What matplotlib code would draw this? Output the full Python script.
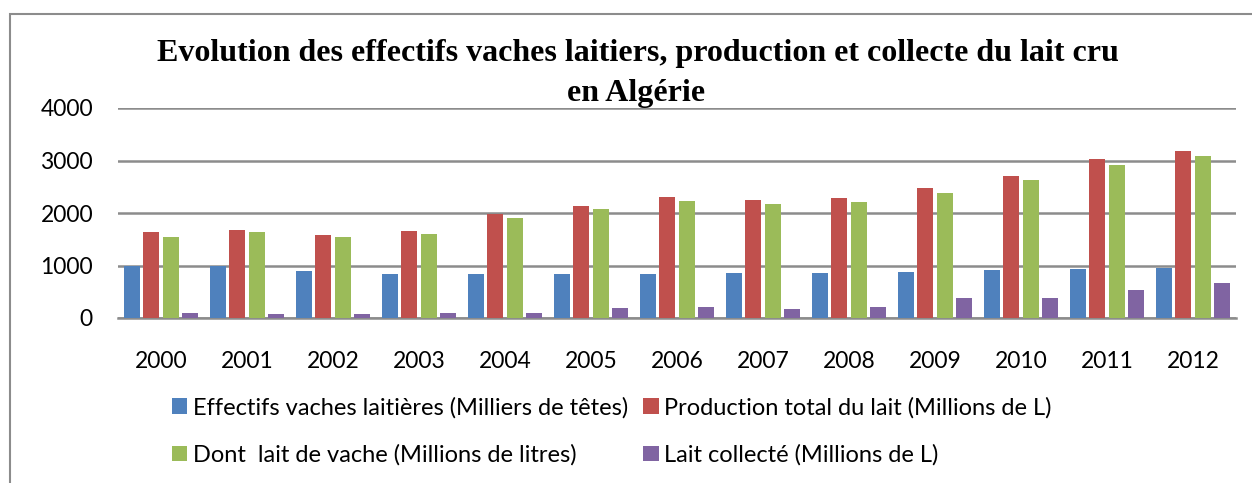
import numpy as np
import matplotlib.pyplot as plt
from matplotlib.patches import Rectangle

years = ['2000', '2001', '2002', '2003', '2004', '2005', '2006',
         '2007', '2008', '2009', '2010', '2011', '2012']
effectifs = [1000, 1000, 886, 829, 841, 829, 841, 848, 848, 873, 905, 930, 956]
production = [1632, 1683, 1587, 1657, 1976, 2141, 2307, 2243, 2282, 2467, 2709, 3021, 3187]
lait_vache = [1549, 1632, 1536, 1606, 1912, 2084, 2231, 2180, 2205, 2390, 2626, 2919, 3078]
collecte = [102, 76, 76, 102, 96, 191, 210, 172, 210, 382, 382, 535, 675]

labels = ['Effectifs vaches laitières (Milliers de têtes)',
          'Production total du lait (Millions de L)',
          'Dont  lait de vache (Millions de litres)',
          'Lait collecté (Millions de L)']
colors = ['#4F81BD', '#C0504D', '#9BBB59', '#8064A2']

W, H = 1252, 483
fig = plt.figure(figsize=(W / 100, H / 100), dpi=100)
fig.patch.set_facecolor('white')

# outer chart frame (only left and top edges visible)
fig.patches.append(Rectangle((10 / W, -0.1), 1.2, 1 - 14 / H + 0.1, transform=fig.transFigure,
                             fill=False, edgecolor='#8c8c8c', linewidth=1.5))

ax = fig.add_axes([118 / W, 1 - 318 / H, (1236 - 118) / W, (318 - 108) / H])

x = np.arange(len(years))
step = 0.227
bw = 0.19
series = [effectifs, production, lait_vache, collecte]
bars = []
for i, vals in enumerate(series):
    b = ax.bar(x + (i - 1.5) * step, vals, width=bw, color=colors[i], label=labels[i], zorder=3)
    bars.append(b)

ax.set_xlim(-0.5, len(years) - 0.5)
ax.set_ylim(0, 4000)
ax.set_yticks([0, 1000, 2000, 3000, 4000])
ax.yaxis.grid(True, color='#8c8c8c', linewidth=1.8, zorder=0)
ax.set_axisbelow(True)
for s in ['top', 'right', 'left']:
    ax.spines[s].set_visible(False)
ax.spines['bottom'].set_color('#8c8c8c')
ax.spines['bottom'].set_linewidth(1.8)
ax.set_xticks(x)
ax.set_xticklabels(years, fontfamily='Lato', fontsize=16.5)
ax.tick_params(axis='x', length=0, pad=24)
ax.tick_params(axis='y', length=0, pad=18, labelsize=16.5)
for t in ax.get_yticklabels():
    t.set_fontfamily('Lato')

fig.text(638 / W, 1 - 53 / H, 'Evolution des effectifs vaches laitiers, production et collecte du lait cru',
         ha='center', va='center', fontfamily='Liberation Serif', fontweight='bold', fontsize=23)
fig.text(636 / W, 1 - 93 / H, 'en Algérie',
         ha='center', va='center', fontfamily='Liberation Serif', fontweight='bold', fontsize=23)

order = [0, 2, 1, 3]
leg = fig.legend([bars[i] for i in order], [labels[i] for i in order],
                 ncol=2, loc='upper left', bbox_to_anchor=(160 / W, 1 - 385 / H),
                 frameon=False, prop={'family': 'Lato', 'size': 17},
                 handlelength=0.64, handleheight=0.64, handletextpad=0.25,
                 columnspacing=0.65, labelspacing=1.1, borderpad=0)

fig.savefig('out.png', dpi=100)
